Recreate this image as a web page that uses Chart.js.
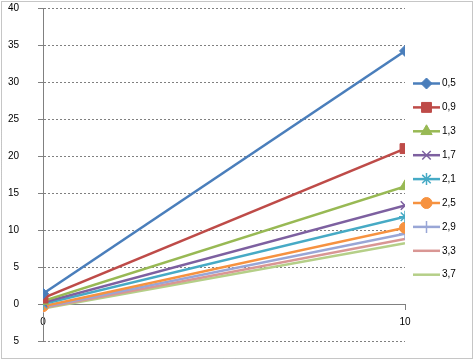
<!DOCTYPE html>
<html>
<head>
<meta charset="utf-8">
<script src="https://cdn.jsdelivr.net/npm/chart.js@4/dist/chart.umd.min.js"></script>
<style>
  html, body { margin: 0; padding: 0; background: #fff; }
  #wrap { width: 475px; height: 361px; position: relative; }
</style>
</head>
<body>
<div id="wrap"><canvas id="chart" width="475" height="361"></canvas></div>
<script>
// x categories
const xValues = [0, 10];

// series labels (legend)
const seriesLabels = ['0,5', '0,9', '1,3', '1,7', '2,1', '2,5', '2,9', '3,3', '3,7'];

// values at x=0 and x=10
const s05 = [1.4, 34.2];
const s09 = [0.8, 21.0];
const s13 = [0.4, 15.9];
const s17 = [0.2, 13.3];
const s21 = [0.0, 11.8];
const s25 = [-0.3, 10.3];
const s29 = [-0.4, 9.5];
const s33 = [-0.5, 8.8];
const s37 = [-0.6, 8.2];

const yTickLabels = { '-5': '5', '0': '0', '5': '5', '10': '10', '15': '15', '20': '20', '25': '25', '30': '30', '35': '35', '40': '40' };

const seriesData = [s05, s09, s13, s17, s21, s25, s29, s33, s37];
const colors = ['#4A7EBB', '#BE4B48', '#98B954', '#7D60A0', '#46AAC5', '#F69240', '#99A6D6', '#D99694', '#B5CF88'];
const markers = ['rectRot', 'rect', 'triangle', 'crossRot', 'star', 'circle', 'cross', false, false];
const radii = [5.5, 7, 6.5, 6, 6, 5.5, 6, 0, 0];

const GRID = '#808080';
const FONT = '"Liberation Sans", Arial, sans-serif';

const datasets = seriesData.map((vals, i) => ({
  label: seriesLabels[i],
  data: vals.map((v, j) => ({ x: xValues[j], y: v })),
  borderColor: colors[i],
  backgroundColor: colors[i],
  borderWidth: 2.5,
  pointStyle: markers[i],
  pointRadius: radii[i],
  pointBorderWidth: (markers[i] === 'crossRot' || markers[i] === 'star' || markers[i] === 'cross') ? 1.5 : 1,
  pointBorderColor: colors[i],
  pointBackgroundColor: colors[i],
  tension: 0
}));

// outer dotted frame
const framePlugin = {
  id: 'frame',
  beforeDraw(chart) {
    const ctx = chart.ctx;
    ctx.save();
    ctx.fillStyle = '#fff';
    ctx.fillRect(0, 0, chart.width, chart.height);
    ctx.strokeStyle = '#8c8c8c';
    ctx.lineWidth = 1;
    ctx.setLineDash([1, 1]);
    ctx.strokeRect(1.5, 1.5, 471, 357);
    ctx.restore();
  }
};

// legend drawn on the right, line + marker per series
const sideLegend = {
  id: 'sideLegend',
  afterDraw(chart) {
    const ctx = chart.ctx;
    ctx.save();
    chart.data.datasets.forEach((ds, i) => {
      const y = 83.5 + i * 23.9;
      ctx.strokeStyle = ds.borderColor;
      ctx.lineWidth = 2.5;
      ctx.setLineDash([]);
      ctx.beginPath();
      ctx.moveTo(413, y);
      ctx.lineTo(440, y);
      ctx.stroke();
      if (ds.pointStyle) {
        ctx.fillStyle = ds.pointBackgroundColor;
        ctx.strokeStyle = ds.pointBorderColor;
        ctx.lineWidth = ds.pointBorderWidth;
        Chart.helpers.drawPoint(ctx, { pointStyle: ds.pointStyle, radius: ds.pointRadius, borderWidth: ds.pointBorderWidth, rotation: 0 }, 426.5, y);
      }
      ctx.fillStyle = '#000';
      ctx.font = '10px ' + FONT;
      ctx.textBaseline = 'middle';
      ctx.textAlign = 'left';
      ctx.fillText(ds.label, 442, y);
    });
    ctx.restore();
  }
};

new Chart(document.getElementById('chart').getContext('2d'), {
  type: 'line',
  data: { datasets },
  options: {
    responsive: false,
    animation: false,
    layout: { padding: { top: 8, right: 70, bottom: 20, left: 0 } },
    plugins: {
      legend: { display: false },
      tooltip: { enabled: false }
    },
    scales: {
      x: {
        type: 'linear',
        min: 0,
        max: 10,
        position: { y: 0 },
        afterFit(scale) { scale.height = 0; },
        ticks: {
          stepSize: 10,
          color: '#000',
          padding: 7,
          maxRotation: 0,
          font: { family: FONT, size: 10 }
        },
        grid: { drawOnChartArea: false, drawTicks: true, tickLength: 5, color: GRID },
        border: { color: GRID, width: 1 }
      },
      y: {
        min: -5,
        max: 40,
        // tick padding otherwise also pads the top and bottom of the plot
        afterFit(scale) {
          scale.width = 43;
          scale.paddingTop = 6;
          scale.paddingBottom = 6;
        },
        ticks: {
          stepSize: 5,
          color: '#000',
          padding: 19,
          callback: v => yTickLabels[String(v)] ?? String(v),
          font: { family: FONT, size: 10 }
        },
        grid: { color: GRID, tickLength: 5 },
        border: { color: GRID, width: 1, dash: [2, 2] }
      }
    }
  },
  plugins: [framePlugin, sideLegend]
});
</script>
</body>
</html>
